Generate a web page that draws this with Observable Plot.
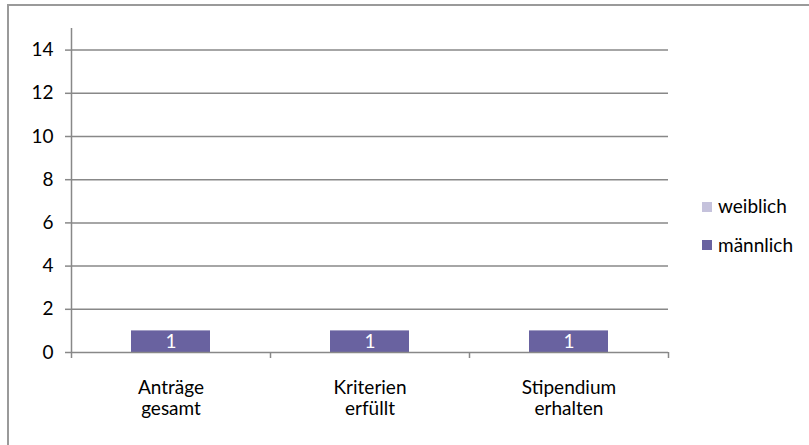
<!DOCTYPE html>
<html>
<head>
<meta charset="utf-8">
<script src="https://cdn.jsdelivr.net/npm/d3@7"></script>
<script src="https://cdn.jsdelivr.net/npm/@observablehq/plot@0.6"></script>
<style>
  html, body { margin: 0; padding: 0; background: #fff; }
  #wrap { position: relative; width: 809px; height: 445px; overflow: hidden; font-family: Lato, sans-serif; }
  #border { position: absolute; left: 7px; top: 4px; width: 900px; height: 600px; border-top: 2px solid #9a9a9a; border-left: 2px solid #9a9a9a; box-sizing: border-box; }
  #chart { position: absolute; left: 0; top: 0; }
  .leg { position: absolute; left: 702px; font-size: 19px; color: #000; line-height: 19px; white-space: nowrap; }
  .leg .sw { position: absolute; left: 0; width: 10px; height: 10px; }
  .leg .lb { position: absolute; left: 16px; }
</style>
</head>
<body>
<div id="wrap">
  <div id="border"></div>
  <div id="chart"></div>
</div>
<script>
const categories = ["Anträge\ngesamt", "Kriterien\nerfüllt", "Stipendium\nerhalten"];
const series = ["weiblich", "männlich"];
const seriesColors = ["#c5c2dc", "#6962a0"];
const maennlich = [1, 1, 1];
const weiblich = [0, 0, 0];
const yTicks = [0, 2, 4, 6, 8, 10, 12, 14];
const yMax = 15;

const rows = [];
categories.forEach((c, i) => {
  rows.push({i, cat: c, series: "männlich", value: maennlich[i]});
  rows.push({i, cat: c, series: "weiblich", value: weiblich[i]});
});
const labelRows = rows.filter(d => d.series === "männlich" && d.value > 0);

const gray = "#888888";
const plot = Plot.plot({
  width: 809,
  height: 445,
  marginLeft: 71,
  marginRight: 141,
  marginTop: 28,
  marginBottom: 93,
  style: {fontFamily: "Lato, sans-serif", fontSize: "19px", background: "transparent", color: "#000"},
  x: {domain: [0, categories.length], axis: null},
  y: {domain: [0, yMax], axis: null},
  color: {domain: series, range: seriesColors},
  marks: [
    Plot.ruleY(yTicks.filter(t => t > 0), {stroke: gray, strokeWidth: 1.5}),
    Plot.rectY(rows, {x1: "i", x2: d => d.i + 1, y: "value", fill: "series", insetLeft: 60, insetRight: 60}),
    Plot.text(labelRows, {x: d => d.i + 0.5, y: d => d.value / 2, text: d => String(d.value), fill: "white", fontSize: 19}),
    Plot.ruleY([0], {stroke: gray, strokeWidth: 1.5}),
    Plot.ruleX([0], {stroke: gray, strokeWidth: 1.5}),
    Plot.axisY({ticks: yTicks, tickSize: 6, tickPadding: 12, stroke: gray, strokeWidth: 1.5, tickFormat: d => String(d), label: null}),
    Plot.axisX({ticks: d3.range(categories.length + 1), tickSize: 6, stroke: gray, strokeWidth: 1.5, tickFormat: () => "", label: null}),
    Plot.axisX({ticks: categories.map((c, i) => i + 0.5), tickSize: 0, tickPadding: 27, lineHeight: 1.1, tickFormat: d => categories[Math.floor(d)], label: null})
  ]
});
document.getElementById("chart").appendChild(plot);

// legend
const wrap = document.getElementById("wrap");
const legTops = [196, 235];
series.forEach((s, k) => {
  const row = document.createElement("div");
  row.className = "leg";
  row.style.top = legTops[k] + "px";
  const sw = document.createElement("div");
  sw.className = "sw";
  sw.style.background = seriesColors[k];
  sw.style.top = (k === 0 ? 6 : 5) + "px";
  const lb = document.createElement("div");
  lb.className = "lb";
  lb.textContent = s;
  row.appendChild(sw);
  row.appendChild(lb);
  wrap.appendChild(row);
});
</script>
</body>
</html>
